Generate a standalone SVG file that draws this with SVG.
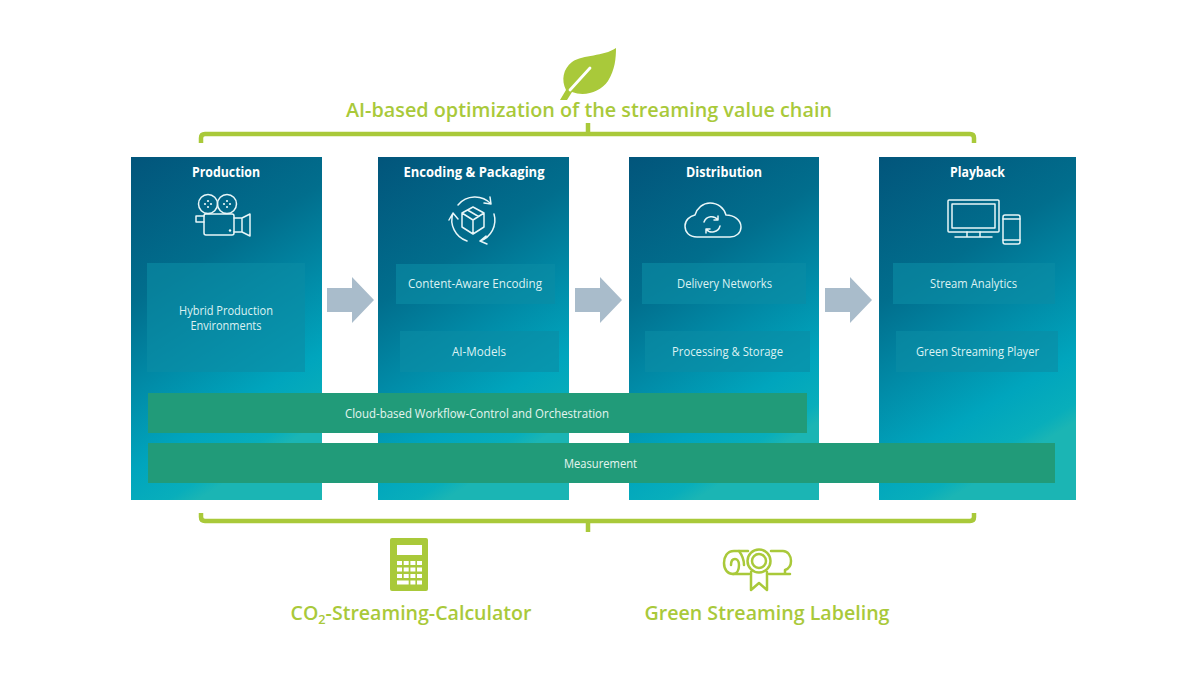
<svg xmlns="http://www.w3.org/2000/svg" width="1200" height="675" viewBox="0 0 1200 675">
<style>
text{font-family:"Open Sans","Noto Sans","Liberation Sans",sans-serif;text-anchor:middle}
.h{fill:#fff;font-size:13.5px;font-weight:700}
.t{fill:#dcf2f3;font-size:12.5px}
.w{fill:#e6f5f0}
.g{fill:#a9c93a;font-size:20px;font-weight:600}
.col{fill:url(#cg)}
.sub{fill:#0c8ca4;fill-opacity:.62}
.bar{fill:#219b79}
.i{fill:none;stroke:#e8f6f8;stroke-width:1.5;stroke-linecap:round;stroke-linejoin:round}
.d{fill:#e8f6f8}
.gi{fill:none;stroke:#a9c93a;stroke-width:2.5;stroke-linecap:round;stroke-linejoin:round}
.br{fill:none;stroke:#a9c93a;stroke-width:4.500}
.ar{fill:#a9bccb}
.k{fill:#fff}
</style>
<defs>
<linearGradient id="cg" x1="0" y1="0" x2="0.35" y2="1">
<stop offset="0" stop-color="#02557b"/>
<stop offset=".38" stop-color="#016e8d"/>
<stop offset=".62" stop-color="#018ca8"/>
<stop offset=".82" stop-color="#00a5bd"/>
<stop offset=".95" stop-color="#08aebb"/>
<stop offset="1" stop-color="#1bb5b4"/>
</linearGradient>
</defs>
<rect width="1200" height="675" fill="#fff"/>
<g id="leaf">
<path d="M616 48C603 57 584 54 572 62C563 69 561 80 566 90L560 100H567L572 92C585 97 600 92 608 81C615 70 616 58 616 48Z" fill="#a9c93a"/>
<path d="M570 90L590 68" fill="none" stroke="#fff" stroke-width="2.800" stroke-linecap="round"/>
</g>
<text id="title" class="g" x="589" y="117" textLength="486" lengthAdjust="spacingAndGlyphs">AI-based optimization of the streaming value chain</text>
<g id="connectors">
<path class="br" d="M201 143V138Q201 134 205 134H970Q974 134 974 138V143"/>
<path class="br" d="M588 123V134"/>
<path class="br" d="M201 513V517Q201 521 205 521H970Q974 521 974 517V513"/>
<path class="br" d="M588 521V532"/>
<path class="ar" d="M327 288H352V277L374 300L352 323V312H327Z"/>
<path class="ar" d="M575 288H600V277L622 300L600 323V312H575Z"/>
<path class="ar" d="M825 288H850V277L872 300L850 323V312H825Z"/>
</g>
<g id="production">
<rect class="col" x="131" y="157" width="191" height="343"/>
<text class="h" x="226" y="177" textLength="68" lengthAdjust="spacingAndGlyphs">Production</text>
<g class="i">
<circle cx="208" cy="204" r="9.500"/><circle cx="227" cy="204" r="9.500"/>
<rect x="204" y="214" width="30" height="21" rx="2"/>
<path d="M204 216H196V222H204M234 218H242V232H234M242 218L250 214V236L242 232"/>
</g>
<g class="d">
<circle cx="208" cy="201" r="1.100"/><circle cx="208" cy="207" r="1.100"/><circle cx="205" cy="204" r="1.100"/><circle cx="211" cy="204" r="1.100"/>
<circle cx="227" cy="201" r="1.100"/><circle cx="227" cy="207" r="1.100"/><circle cx="224" cy="204" r="1.100"/><circle cx="230" cy="204" r="1.100"/>
<circle cx="230" cy="230.500" r="1.200"/>
</g>
<rect class="sub" x="147" y="263" width="158" height="109"/>
<text class="t" x="226" y="315" textLength="94" lengthAdjust="spacingAndGlyphs">Hybrid Production</text>
<text class="t" x="226" y="330" textLength="71" lengthAdjust="spacingAndGlyphs">Environments</text>
</g>
<g id="encoding">
<rect class="col" x="378" y="157" width="191" height="343"/>
<text class="h" x="474" y="177" textLength="141" lengthAdjust="spacingAndGlyphs">Encoding &amp; Packaging</text>
<g class="i">
<path d="M458 205A22 22 0 0 1 491 204M491 204L484 203M491 204L490 197"/>
<path d="M494 214A22 22 0 0 1 480 241M480 241L486 236M480 241L487 244"/>
<path d="M467 241A22 22 0 0 1 453 213M453 213L449 220M453 213L458 219"/>
<path d="M473 207L484 213V227L473 234L462 227V213ZM462 213L473 220L484 213M473 220V234M467.500 210L478.500 216.500"/>
</g>
<rect class="sub" x="396" y="264" width="159" height="40"/>
<text class="t" x="475" y="288" textLength="134" lengthAdjust="spacingAndGlyphs">Content-Aware Encoding</text>
<rect class="sub" x="400" y="331" width="159" height="41"/>
<text class="t" x="479" y="356" textLength="54" lengthAdjust="spacingAndGlyphs">AI-Models</text>
</g>
<g id="distribution">
<rect class="col" x="629" y="157" width="190" height="343"/>
<text class="h" x="724" y="177" textLength="76" lengthAdjust="spacingAndGlyphs">Distribution</text>
<g class="i">
<path d="M697 237C689 237 685 232 685 226C685 220 690 216 695 215C697 208 703 203 710 203C718 203 724 208 726 215C734 215 741 220 741 227C741 233 736 237 730 237Z"/>
<path d="M704 222A8 8 0 0 1 718 220M718 220V216M718 220H714M720 226A8 8 0 0 1 706 229M706 229V233M706 229H710"/>
</g>
<rect class="sub" x="642" y="263" width="164" height="41"/>
<text class="t" x="724.500" y="288" textLength="95" lengthAdjust="spacingAndGlyphs">Delivery Networks</text>
<rect class="sub" x="645" y="331" width="165" height="41"/>
<text class="t" x="727.500" y="356" textLength="111" lengthAdjust="spacingAndGlyphs">Processing &amp; Storage</text>
</g>
<g id="playback">
<rect class="col" x="879" y="157" width="197" height="343"/>
<text class="h" x="977.500" y="177" textLength="55" lengthAdjust="spacingAndGlyphs">Playback</text>
<g class="i">
<rect x="948" y="200" width="51" height="32" rx="1"/>
<rect x="952" y="204" width="43" height="24"/>
<path d="M967 232V237M980 232V237M955 237H992"/>
<rect x="1003" y="215" width="17" height="29" rx="2"/>
<path d="M1003 219H1020M1003 240H1020"/>
</g>
<rect class="sub" x="893" y="263" width="162" height="41"/>
<text class="t" x="973.500" y="288" textLength="87" lengthAdjust="spacingAndGlyphs">Stream Analytics</text>
<rect class="sub" x="896" y="331" width="162" height="41"/>
<text class="t" x="977.500" y="356" textLength="123" lengthAdjust="spacingAndGlyphs">Green Streaming Player</text>
</g>
<g id="workflow">
<rect class="bar" x="148" y="393" width="659" height="40"/>
<text class="t w" x="477" y="418" textLength="264" lengthAdjust="spacingAndGlyphs">Cloud-based Workflow-Control and Orchestration</text>
</g>
<g id="measurement">
<rect class="bar" x="148" y="443" width="907" height="40"/>
<text class="t w" x="600.500" y="468" textLength="73" lengthAdjust="spacingAndGlyphs">Measurement</text>
</g>
<g id="calculator">
<rect x="390" y="538" width="38" height="53" rx="2" fill="#a9c93a"/>
<rect class="k" x="397" y="545" width="25" height="10"/>
<g class="k">
<rect x="397" y="561" width="5" height="4"/><rect x="403.700" y="561" width="5" height="4"/><rect x="410.400" y="561" width="5" height="4"/><rect x="417" y="561" width="5" height="4"/>
<rect x="397" y="567.500" width="5" height="4"/><rect x="403.700" y="567.500" width="5" height="4"/><rect x="410.400" y="567.500" width="5" height="4"/><rect x="417" y="567.500" width="5" height="4"/>
<rect x="397" y="574" width="5" height="4"/><rect x="403.700" y="574" width="5" height="4"/><rect x="410.400" y="574" width="5" height="4"/><rect x="417" y="574" width="5" height="4"/>
<rect x="397" y="580.500" width="11.700" height="4"/><rect x="410.400" y="580.500" width="5" height="4"/><rect x="417" y="580.500" width="5" height="4"/>
</g>
<text class="g" x="411" y="620" textLength="241" lengthAdjust="spacingAndGlyphs">CO<tspan font-size="13" dy="4">2</tspan><tspan dy="-4">-Streaming-Calculator</tspan></text>
</g>
<g id="labeling">
<g class="gi">
<path d="M748 551H734C727 551 724 557 724 563C724 570 728 574 733 574C737 574 739 570 739 565C739 561 737 559 735 559C732 559 731 562 731 565"/>
<path d="M771 551H783C788 551 791 556 791 561C791 566 788 569 785 570V574H790M733 574H749M769 574H785M739 551C742 555 744 560 744 565"/>
<circle cx="759" cy="561" r="11.500"/>
<circle cx="759" cy="561" r="7"/>
<path d="M751 572V590L759 583L767 590V572"/>
</g>
<text class="g" x="767" y="620" textLength="245" lengthAdjust="spacingAndGlyphs">Green Streaming Labeling</text>
</g>
</svg>
